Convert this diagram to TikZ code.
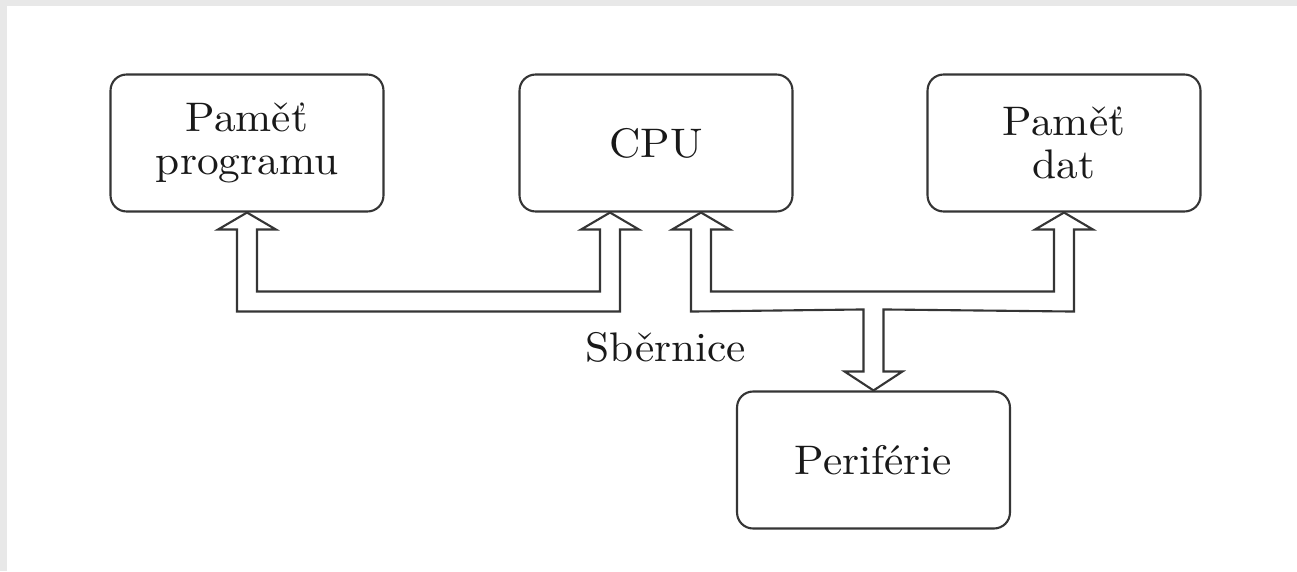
\documentclass[tikz,border=0pt]{standalone}
\usepackage{fontspec}
\newfontfamily\lmten[FakeStretch=1.05]{lmroman10-regular.otf}
\usetikzlibrary{calc}
\definecolor{bandgray}{HTML}{E8E8E8}
\definecolor{inkgray}{HTML}{353535}
\begin{document}
\begin{tikzpicture}[x=0.02cm,y=-0.02cm,
  unit/.style={draw=inkgray, line width=1.2pt, rounded corners=0.32cm,
    minimum width=5.46cm, minimum height=2.74cm, align=center, inner sep=0pt,
    font=\lmten\fontsize{23.5}{24.5}\selectfont, text=black!90},
  lbl/.style={font=\lmten\fontsize{23.5}{24.5}\selectfont, text=black!90, inner sep=0pt},
  bus/.style={draw=inkgray, line width=1.2pt, fill=white, line join=miter}]
  % background and margins
  \fill[bandgray] (0,0) rectangle (1297,571);
  \fill[white] (7,6) rectangle (1297,571);
  \useasboundingbox (0,0) rectangle (1297,571);
  % units
  \node[unit] (ppm) at (247,143) {Paměť\\programu};
  \node[unit] (cpu) at (656,143) {CPU};
  \node[unit] (dat) at (1064,143) {Paměť\\dat};
  \node[unit] (per) at (873.5,460) {Periférie};
  % anchor points of the bus on the CPU
  \coordinate (cl) at ($(cpu.south)+(-46,0)$);
  \coordinate (cr) at ($(cpu.south)+(45,0)$);
  % bus between program memory and CPU
  \draw[bus] (ppm.south) -- ++(29,17) -- ++(-19,0) -- ++(0,62)
    -- ($(cl)+(-10,79)$) -- ($(cl)+(-10,17)$) -- ($(cl)+(-29,17)$) -- (cl)
    -- ($(cl)+(29,17)$) -- ($(cl)+(10,17)$) -- ($(cl)+(10,99)$)
    -- ($(ppm.south)+(-10,99)$) -- ($(ppm.south)+(-10,17)$)
    -- ($(ppm.south)+(-29,17)$) -- cycle;
  % bus between CPU, data memory and peripherals
  \draw[bus] (cr) -- ++(29,17) -- ++(-19,0) -- ++(0,62)
    -- ($(dat.south)+(-10,79)$) -- ($(dat.south)+(-10,17)$)
    -- ($(dat.south)+(-29,17)$) -- (dat.south)
    -- ($(dat.south)+(29,17)$) -- ($(dat.south)+(10,17)$)
    -- ($(dat.south)+(10,99)$)
    -- ($(per.north)+(10,-81)$) -- ($(per.north)+(10,-19)$)
    -- ($(per.north)+(29,-19)$) -- (per.north)
    -- ($(per.north)+(-29,-19)$) -- ($(per.north)+(-10,-19)$)
    -- ($(per.north)+(-10,-81)$)
    -- ($(cr)+(-10,99)$) -- ($(cr)+(-10,17)$) -- ($(cr)+(-29,17)$) -- cycle;
  \node[lbl] (sb) at (666,347) {Sběrnice};
\end{tikzpicture}
\end{document}
